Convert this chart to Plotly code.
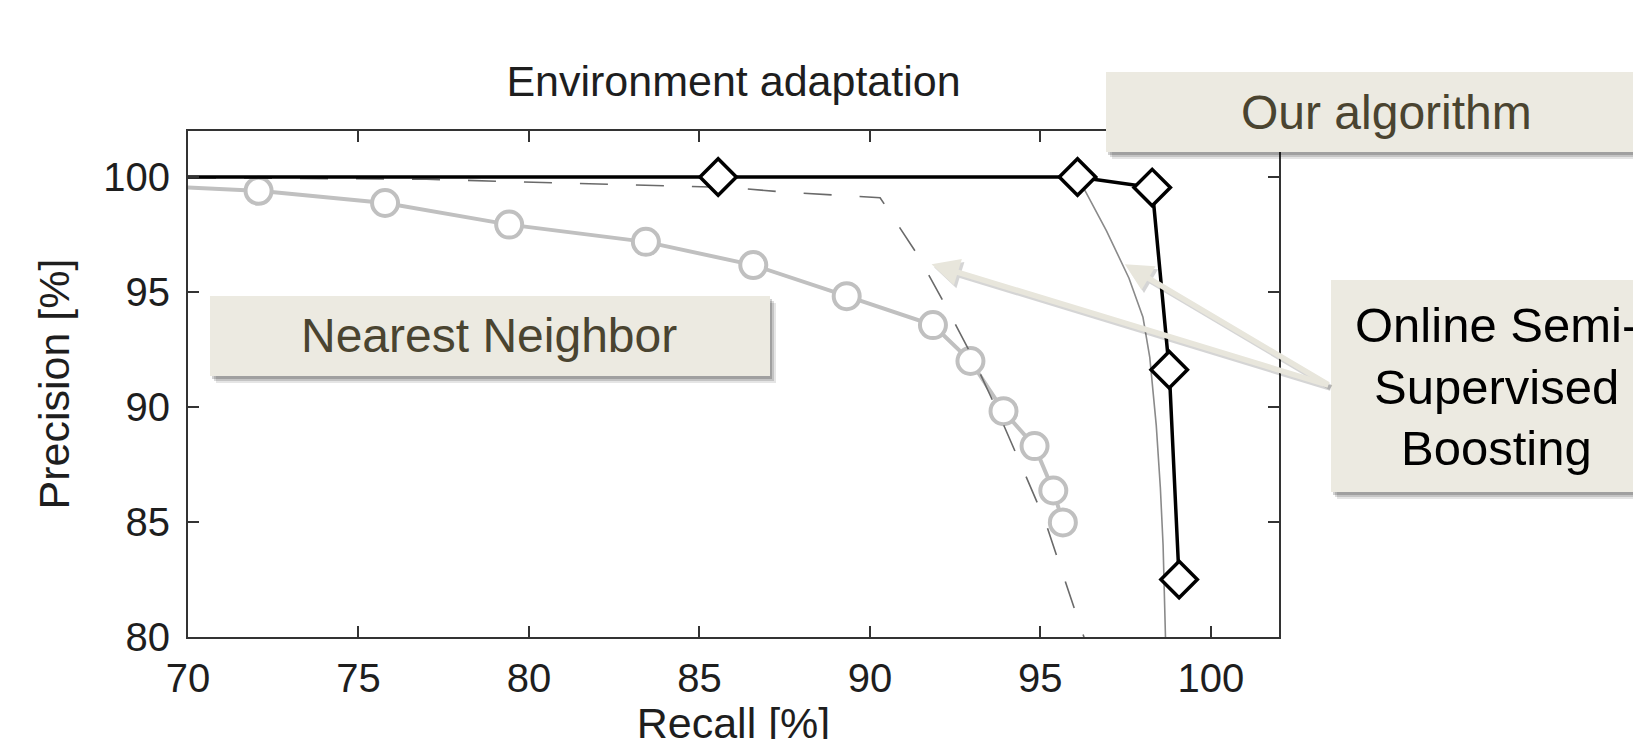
import plotly.graph_objects as go

# ---------------- data ----------------
x_ticks = [70, 75, 80, 85, 90, 95, 100]
y_ticks = [80, 85, 90, 95, 100]

# Nearest Neighbor (light grey, open circles)
nn_recall = [68.5, 72.07, 75.78, 79.42, 83.43, 86.58, 89.32, 91.85, 92.95, 93.92, 94.83, 95.38, 95.66]
nn_precision = [99.65, 99.40, 98.87, 97.93, 97.18, 96.17, 94.82, 93.56, 92.00, 89.82, 88.30, 86.37, 84.98]

# Online semi-supervised boosting (dashed grey)
dash_recall = [70.0, 77.0, 82.46, 85.88, 87.71, 89.41, 90.3, 91.42, 92.25, 93.0, 93.76, 94.44, 95.13, 95.67, 96.21, 96.3]
dash_precision = [99.97, 99.90, 99.68, 99.54, 99.32, 99.18, 99.10, 96.57, 94.33, 92.2, 89.77, 87.46, 85.08, 82.69, 80.23, 79.9]

# Online semi-supervised boosting (thin grey)
thin_recall = [70.0, 96.09, 96.35, 96.94, 97.6, 98.01, 98.21, 98.4, 98.52, 98.6, 98.67]
thin_precision = [100.0, 100.0, 99.3, 97.66, 95.6, 93.9, 92.16, 89.2, 86.5, 84.0, 80.0]

# Our algorithm (black, diamonds)
ours_recall = [62.0, 85.55, 96.09, 98.28, 98.78, 99.07]
ours_precision = [100.0, 100.0, 100.0, 99.54, 91.62, 82.5]

# callout arrows (data coordinates): tips and common tail
arrow_tip_recall = [91.81, 97.48]
arrow_tip_precision = [96.21, 96.21]
arrow_tail = (103.49, 90.93)

# ---------------- figure ----------------
W, H = 1641, 739
OFF = 8  # default page margin of the html body
# plot area in page pixels
L, R, T, B = 188, 1279, 131, 637
Lf, Rf, Tf, Bf = L - OFF, R - OFF, T - OFF, B - OFF  # in figure pixels

def px_x(p):
    return (p - L) / (R - L)

def px_y(p):
    return (B - p) / (B - T)

AX_FONT = "Liberation Sans, Arial, Helvetica, sans-serif"
BOX_FONT = "Liberation Sans, Arial, sans-serif"
INK = "#1e1e1e"
BOX_FILL = "#ECEAE1"
OLIVE = "#4A4430"

fig = go.Figure()
fig.add_trace(go.Scatter(
    x=nn_recall, y=nn_precision, mode="lines+markers", name="Nearest Neighbor",
    line=dict(color="#c0c0c0", width=4),
    marker=dict(symbol="circle", size=26, color="white", line=dict(color="#c0c0c0", width=4)),
))
fig.add_trace(go.Scatter(
    x=dash_recall, y=dash_precision, mode="lines", name="OSSB (dashed)",
    line=dict(color="#6a6a6a", width=1.6, dash="28px,28px"),
))
fig.add_trace(go.Scatter(
    x=thin_recall, y=thin_precision, mode="lines", name="OSSB",
    line=dict(color="#8a8a8a", width=1.6),
))
fig.add_trace(go.Scatter(
    x=ours_recall, y=ours_precision, mode="lines+markers", name="Our algorithm",
    line=dict(color="black", width=3.5),
    marker=dict(symbol="diamond", size=28, color="white", line=dict(color="black", width=3.5)),
))

axis_common = dict(
    ticks="inside", ticklen=11, tickwidth=2, tickcolor="#333",
    showline=True, linecolor="#333", linewidth=2, mirror="ticks",
    showgrid=False, zeroline=False, automargin=False,
    tickfont=dict(family=AX_FONT, size=40, color=INK),
)
fig.update_xaxes(range=[70, 102], tickvals=x_ticks, ticktext=[str(v) for v in x_ticks],
                 ticklabelstandoff=5,
                 title=dict(text="Recall [%]", font=dict(family=AX_FONT, size=43, color=INK), standoff=20),
                 **axis_common)
fig.update_yaxes(range=[80, 102], tickvals=y_ticks, ticktext=[str(v) for v in y_ticks],
                 ticklabelstandoff=8,
                 title=dict(text="Precision [%]", font=dict(family=AX_FONT, size=43, color=INK), standoff=20),
                 **axis_common)

shapes = []
def box(x0, y0, x1, y1):
    # soft drop shadow + box (page pixel coordinates converted to paper)
    for dx, dy, a in [(6, 7, 0.10), (4, 5, 0.14), (2, 3, 0.18)]:
        shapes.append(dict(type="rect", xref="paper", yref="paper", layer="above",
                           x0=px_x(x0 + dx), x1=px_x(x1 + dx), y0=px_y(y1 + dy), y1=px_y(y0 + dy),
                           line=dict(width=0), fillcolor=f"rgba(0,0,0,{a})"))
    shapes.append(dict(type="rect", xref="paper", yref="paper", layer="above",
                       x0=px_x(x0), x1=px_x(x1), y0=px_y(y1), y1=px_y(y0),
                       line=dict(width=0), fillcolor=BOX_FILL))

box(1106, 72, 1700, 152)     # Our algorithm
box(210, 296, 770, 376)      # Nearest Neighbor
box(1331, 280, 1700, 492)    # Online Semi-Supervised Boosting

annotations = []
# arrows with shadows
for tx, ty in zip(arrow_tip_recall, arrow_tip_precision):
    annotations.append(dict(x=tx, y=ty, xref="x", yref="y", ax=arrow_tail[0], ay=arrow_tail[1],
                            axref="x", ayref="y", text="", showarrow=True, arrowhead=2,
                            arrowsize=1, arrowwidth=5.5, arrowcolor="rgba(0,0,0,0.16)",
                            xshift=2.5, yshift=-3))
for tx, ty in zip(arrow_tip_recall, arrow_tip_precision):
    annotations.append(dict(x=tx, y=ty, xref="x", yref="y", ax=arrow_tail[0], ay=arrow_tail[1],
                            axref="x", ayref="y", text="", showarrow=True, arrowhead=2,
                            arrowsize=1, arrowwidth=5.5, arrowcolor="#E8E6DC"))

annotations.append(dict(text="Our algorithm", x=px_x(1386), y=px_y(112), xref="paper", yref="paper",
                        showarrow=False, xanchor="center", yanchor="middle",
                        font=dict(family=BOX_FONT, size=48, color=OLIVE)))
annotations.append(dict(text="Nearest Neighbor", x=px_x(489.5), y=px_y(335), xref="paper", yref="paper",
                        showarrow=False, xanchor="center", yanchor="middle",
                        font=dict(family=BOX_FONT, size=48, color=OLIVE)))
for line_text, cy in [("Online Semi-", 325), ("Supervised", 386.7), ("Boosting", 448.3)]:
    annotations.append(dict(text=line_text, x=px_x(1496), y=px_y(cy), xref="paper", yref="paper",
                            showarrow=False, xanchor="center", yanchor="middle",
                            font=dict(family=BOX_FONT, size=49, color="black")))

fig.update_layout(
    width=W, height=H,
    margin=dict(l=Lf, r=W - Rf, t=Tf, b=H - Bf, autoexpand=False),
    paper_bgcolor="white", plot_bgcolor="white",
    showlegend=False,
    title=dict(text="Environment adaptation", x=0.5, xref="paper", xanchor="center",
               y=1 - (80.6 - OFF) / H, yref="container", yanchor="middle",
               font=dict(family=AX_FONT, size=43, color=INK)),
    shapes=shapes,
    annotations=annotations,
)

fig.write_html("out.html")
